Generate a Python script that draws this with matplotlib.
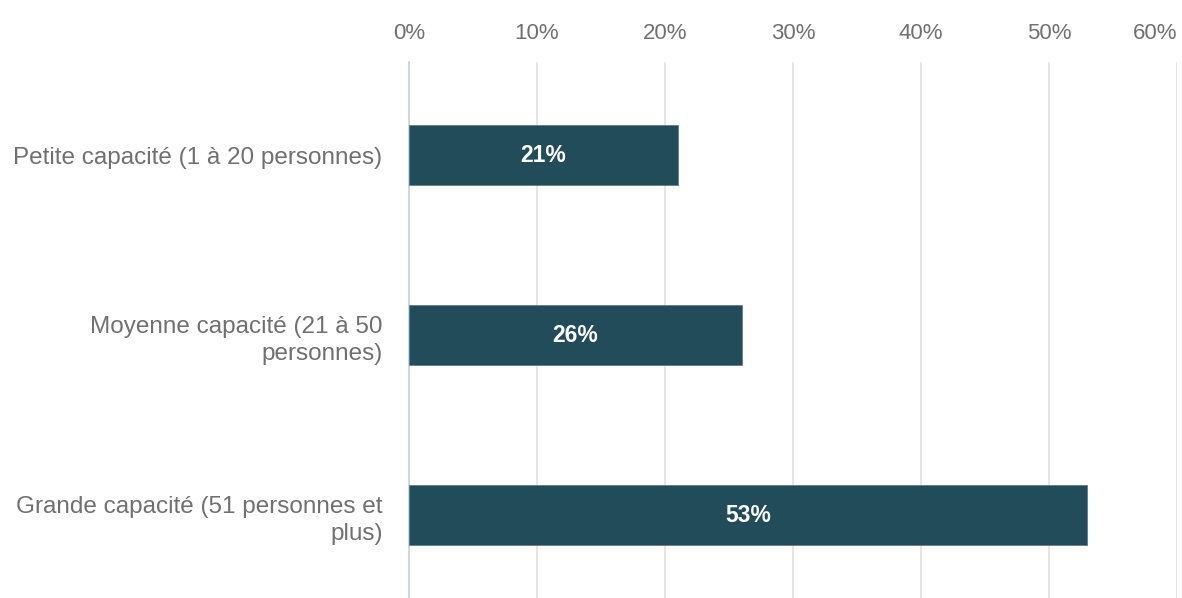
import matplotlib
matplotlib.use("Agg")
import matplotlib.pyplot as plt
from matplotlib.ticker import PercentFormatter

categories = ["Petite capacité (1 à 20 personnes)",
              "Moyenne capacité (21 à 50\npersonnes)",
              "Grande capacité (51 personnes et\nplus)"]
values = [21, 26, 53]
xticks = [0, 10, 20, 30, 40, 50, 60]

BAR = "#234C5A"
GRID = "#E0E0E0"
TXT = "#707070"

plt.rcParams["font.family"] = ["Liberation Sans", "DejaVu Sans"]
fig = plt.figure(figsize=(11.82, 5.98), dpi=100)
ax = fig.add_axes([0.346, 0.0, 0.6498, 0.8963])

ys = list(range(len(categories)))
ax.barh(ys, values, height=0.33, color=BAR, edgecolor="#5E7E8A", linewidth=0.6, zorder=3)
for y, v in zip(ys, values):
    ax.text(v / 2, y, f"{v}%", ha="center", va="center", color="white",
            fontsize=16.5, fontweight="bold", zorder=4)

ax.set_xlim(0, 60)
ax.set_ylim(2.46, -0.517)
ax.set_xticks(xticks)
ax.xaxis.set_major_formatter(PercentFormatter(decimals=0))
ax.xaxis.tick_top()
ax.tick_params(axis="x", length=0, pad=13, labelsize=16, colors=TXT)
ax.get_xticklabels()[-1].set_horizontalalignment("right")
ax.set_yticks(ys)
ax.set_yticklabels(categories)
ax.tick_params(axis="y", length=0, pad=19, labelsize=17.5, colors=TXT)
for lbl in ax.get_yticklabels():
    lbl.set_multialignment("right")
    lbl.set_linespacing(1.3)
ax.grid(axis="x", color=GRID, linewidth=1.2, zorder=0)
for sp in ["top", "right", "bottom"]:
    ax.spines[sp].set_visible(False)
ax.spines["left"].set_color("#C5D0E6")
ax.spines["left"].set_linewidth(1.2)
ax.spines["left"].set_zorder(2)

fig.savefig("out.png", dpi=100, facecolor="white")
